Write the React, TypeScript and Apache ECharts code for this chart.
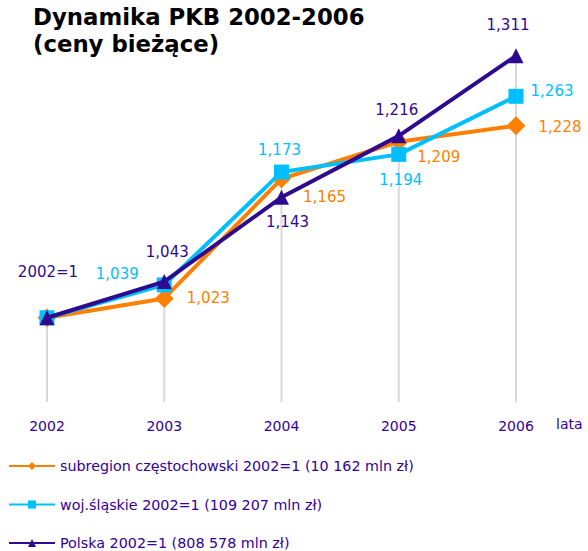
import React, { useEffect, useRef } from "react";
import * as echarts from "echarts";

const years = ["2002", "2003", "2004", "2005", "2006"];
const subregion = [1, 1.023, 1.165, 1.209, 1.228];
const slaskie = [1, 1.039, 1.173, 1.194, 1.263];
const polska = [1, 1.043, 1.143, 1.216, 1.311];
const seriesNames = [
  "subregion częstochowski 2002=1 (10 162 mln zł)",
  "woj.śląskie 2002=1 (109 207 mln zł)",
  "Polska 2002=1 (808 578 mln zł)",
];
const baseLabel = "2002=1";
const xAxisName = "lata";
const titleText = "Dynamika PKB 2002-2006\n(ceny bieżące)";

// label offsets (styling, px) per point
const offOrange: (number[] | null)[] = [null, [44, 0], [43, 18], [40, 15], [44, 1]];
const offCyan: (number[] | null)[] = [null, [-47, -11], [-2, -22], [2, 26], [36, -5]];
const offPurple: (number[] | null)[] = [[1, -46], [3, -30], [6, 25], [-2, -26], [-8, -31]];

const FONT = "DejaVu Sans";
const TEXT = "#330099";
const C_ORANGE = "#FF8000";
const C_CYAN = "#00BFFF";
const C_PURPLE = "#2E0A8F";

const fmt = (v: number) => v.toFixed(3).replace(".", ",");

function makeData(values: number[], offs: (number[] | null)[], color: string, first?: string) {
  return values.map((v, i) => {
    const o = offs[i];
    if (!o) return { value: v, label: { show: false } };
    return {
      value: v,
      label: {
        show: true,
        position: "inside",
        offset: o,
        color,
        fontFamily: FONT,
        fontSize: 15,
        formatter: i === 0 && first ? first : fmt(v),
      },
    };
  });
}

export default function App() {
  const ref = useRef<HTMLDivElement>(null);
  useEffect(() => {
    document.body.style.margin = "0";
    if (!ref.current) return;
    const chart = echarts.init(ref.current, undefined, { renderer: "svg" });
    const maxes = years.map((_, i) => Math.max(subregion[i], slaskie[i], polska[i]));
    chart.setOption({
      animation: false,
      backgroundColor: "#ffffff",
      title: {
        text: titleText,
        left: 33,
        top: 3,
        padding: 0,
        textStyle: {
          fontFamily: FONT,
          fontWeight: "bold",
          fontSize: 22.8,
          lineHeight: 27,
          color: "#000000",
        },
      },
      legend: {
        orient: "vertical",
        left: 8,
        top: 459,
        height: 100,
        padding: 0,
        itemWidth: 46,
        itemHeight: 10,
        itemGap: 24.5,
        data: seriesNames,
        textStyle: { fontFamily: FONT, fontSize: 14.3, color: TEXT },
      },
      grid: { left: 47, right: 72, top: 23, bottom: 149, containLabel: false },
      xAxis: {
        type: "category",
        data: years,
        boundaryGap: false,
        axisLine: { show: false },
        axisTick: { show: false },
        splitLine: { show: false },
        axisLabel: { color: TEXT, fontFamily: FONT, fontSize: 14, margin: 17 },
        name: xAxisName,
        nameLocation: "end",
        nameGap: 40,
        nameTextStyle: {
          color: TEXT,
          fontFamily: FONT,
          fontSize: 14,
          verticalAlign: "top",
          padding: [15, 0, 0, 0],
        },
      },
      yAxis: {
        type: "value",
        min: 0.9,
        max: 1.35,
        show: false,
        splitLine: { show: false },
      },
      series: [
        {
          type: "bar",
          name: "drop",
          data: maxes,
          barWidth: 2,
          itemStyle: { color: "#d9d9d9" },
          z: 1,
          silent: true,
          legendHoverLink: false,
        },
        {
          type: "line",
          name: seriesNames[0],
          data: makeData(subregion, offOrange, C_ORANGE),
          symbol: "diamond",
          symbolSize: 19,
          color: C_ORANGE,
          lineStyle: { color: C_ORANGE, width: 4 },
          itemStyle: { color: C_ORANGE },
          z: 3,
        },
        {
          type: "line",
          name: seriesNames[1],
          data: makeData(slaskie, offCyan, C_CYAN),
          symbol: "rect",
          symbolSize: 15,
          color: C_CYAN,
          lineStyle: { color: C_CYAN, width: 4 },
          itemStyle: { color: C_CYAN },
          z: 4,
        },
        {
          type: "line",
          name: seriesNames[2],
          data: makeData(polska, offPurple, C_PURPLE, baseLabel),
          symbol: "triangle",
          symbolSize: 15,
          color: C_PURPLE,
          lineStyle: { color: C_PURPLE, width: 4 },
          itemStyle: { color: C_PURPLE },
          z: 5,
        },
      ],
    });
    return () => chart.dispose();
  }, []);
  return <div ref={ref} style={{ width: 588, height: 551 }} />;
}
